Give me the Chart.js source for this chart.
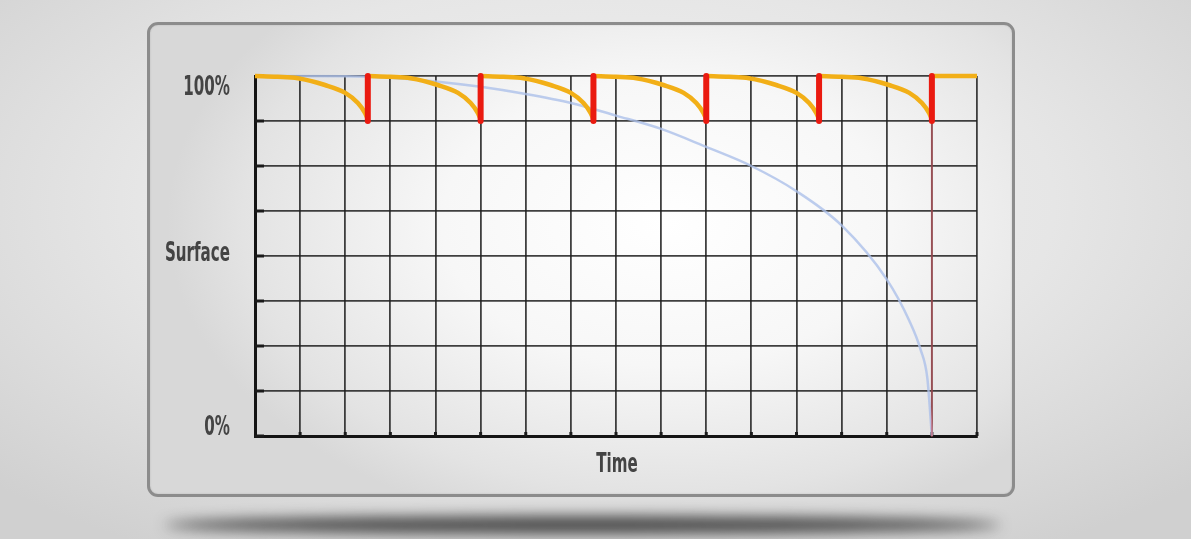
<!DOCTYPE html>
<html>
<head>
<meta charset="utf-8">
<script src="https://cdn.jsdelivr.net/npm/chart.js@4.4.1/dist/chart.umd.min.js"></script>
<style>
  html, body { margin: 0; padding: 0; }
  body {
    width: 1191px; height: 539px; overflow: hidden; position: relative;
    background: radial-gradient(ellipse 70% 75% at 50% 38%, #f3f3f3 0%, #e6e6e6 55%, #d0d0d0 100%);
  }
  #shadow {
    position: absolute; left: 165px; top: 516px; width: 835px; height: 18px;
    border-radius: 50%;
    background: rgba(35,35,35,0.8);
    filter: blur(7px);
  }
  #panel {
    position: absolute; left: 147px; top: 22px; width: 862px; height: 469px;
    border: 3px solid #8c8c8c; border-radius: 11px;
    background: radial-gradient(ellipse 58% 68% at 60% 42%, #ffffff 0%, #f7f7f7 45%, #e3e3e3 85%, #d8d8d8 100%);
    box-shadow: inset 0 0 2px rgba(0,0,0,0.15);
  }
  #chart { position: absolute; left: 0; top: 0; }
</style>
</head>
<body>
<div id="shadow"></div>
<div id="panel"></div>
<canvas id="chart" width="1191" height="539"></canvas>
<script>
// ---- data ----
const xMin = 0, xMax = 16;               // 16 time steps
const yTickValues = [100, 50, 0];
const yTickLabels = ['100%', 'Surface', '0%'];
const xTitle = 'Time';

// surface without maintenance (blue curve)
const decayTime    = [0, 2, 3, 4, 5, 6, 7, 8, 9, 10, 11, 12, 13, 14, 14.5, 14.75, 14.9, 15.0];
const decaySurface = [100, 99.9, 99.5, 98.5, 97, 95, 92.5, 89, 85.3, 80.3, 75, 68, 58.5, 43.5, 32, 24, 16, 0];

// maintained surface (yellow sawtooth): each cycle starts at a refill time
const cycleStarts  = [0, 2.5, 5, 7.5, 10, 12.5];
const cycleOffset  = [0, 0.5, 0.95, 1.55, 2.0, 2.28, 2.44, 2.5];
const cycleSurface = [100, 99.8, 99.4, 97.5, 95.3, 92.5, 89.7, 88.0];
const finalTime    = [15, 16];
const finalSurface = [100, 100];

// refill events (red bars)
const refillTimes  = [2.5, 5, 7.5, 10, 12.5, 15];
const refillTop    = 100;
const refillBottom = 87.5;

// failure line of unmaintained surface
const failTime = 15;
const failTop = 87.5, failBottom = 0;

// ---- build datasets ----
const datasets = [];
datasets.push({
  label: 'decay',
  data: decayTime.map((t, i) => ({ x: t, y: decaySurface[i] })),
  borderColor: 'rgba(172,192,234,0.8)', borderWidth: 2.5,
  cubicInterpolationMode: 'monotone', pointRadius: 0, clip: false, order: 5
});
datasets.push({
  label: 'fail',
  data: [{ x: failTime, y: failTop }, { x: failTime, y: failBottom }],
  borderColor: 'rgba(225,95,105,0.55)', borderWidth: 2,
  pointRadius: 0, clip: false, order: 4
});
cycleStarts.forEach(s => {
  datasets.push({
    label: 'cycle',
    data: cycleOffset.map((u, i) => ({ x: s + u, y: cycleSurface[i] })),
    borderColor: '#f2af17', borderWidth: 4.5,
    cubicInterpolationMode: 'monotone', pointRadius: 0, clip: false, order: 2
  });
});
datasets.push({
  label: 'cycle',
  data: finalTime.map((t, i) => ({ x: t, y: finalSurface[i] })),
  borderColor: '#f2af17', borderWidth: 4.5, pointRadius: 0, clip: false, order: 2
});
refillTimes.forEach(t => {
  datasets.push({
    label: 'refill',
    data: [{ x: t, y: refillTop }, { x: t, y: refillBottom }],
    borderColor: '#ea1a10', borderWidth: 6, borderCapStyle: 'round',
    pointRadius: 0, clip: false, order: 1
  });
});

const FONT = 'bold 27px "DejaVu Sans", sans-serif';
const SQUEEZE = 0.56;
function condensedText(ctx, text, x, y, align) {
  ctx.save();
  ctx.font = FONT;
  ctx.fillStyle = '#444444';
  ctx.textBaseline = 'middle';
  const w = ctx.measureText(text).width * SQUEEZE;
  let left = x;
  if (align === 'right') left = x - w;
  if (align === 'center') left = x - w / 2;
  ctx.translate(left, y);
  ctx.scale(SQUEEZE, 1);
  ctx.textAlign = 'left';
  ctx.fillText(text, 0, 0);
  ctx.restore();
}

const labelShift = { '100%': 12, 'Surface': -2, '0%': -8 };

const decor = {
  id: 'decor',
  beforeDatasetsDraw(chart) {
    const { ctx, chartArea: a, scales: { x, y } } = chart;
    ctx.save();
    ctx.strokeStyle = '#1a1a1a';
    ctx.lineWidth = 3;
    for (let v = 0; v <= 100; v += 12.5) {
      const py = y.getPixelForValue(v);
      ctx.beginPath(); ctx.moveTo(a.left, py); ctx.lineTo(a.left + 9, py); ctx.stroke();
    }
    for (let t = xMin + 1; t <= xMax; t++) {
      const px = x.getPixelForValue(t);
      ctx.beginPath(); ctx.moveTo(px, a.bottom); ctx.lineTo(px, a.bottom - 4); ctx.stroke();
    }
    ctx.restore();
  },
  afterDraw(chart) {
    const { ctx, chartArea: a, scales: { y } } = chart;
    yTickValues.forEach((v, i) => {
      const lbl = yTickLabels[i];
      condensedText(ctx, lbl, a.left - 25, y.getPixelForValue(v) + (labelShift[lbl] || 0), 'right');
    });
    condensedText(ctx, xTitle, (a.left + a.right) / 2 + 1, a.bottom + 29, 'center');
  }
};

new Chart(document.getElementById('chart'), {
  type: 'line',
  data: { datasets },
  options: {
    responsive: false,
    animation: false,
    events: [],
    layout: { padding: { left: 255, right: 214, top: 76, bottom: 103 } },
    plugins: { legend: { display: false }, tooltip: { enabled: false } },
    elements: { line: { borderJoinStyle: 'round' } },
    scales: {
      x: {
        type: 'linear', min: xMin, max: xMax,
        ticks: { display: false, stepSize: 1 },
        grid: { color: 'rgba(30,30,30,0.85)', lineWidth: 1.8, drawTicks: false },
        border: { display: true, color: '#141414', width: 3 },
        afterFit: s => { s.height = 0; }
      },
      y: {
        min: 0, max: 100,
        ticks: { display: false, stepSize: 12.5 },
        grid: { color: 'rgba(30,30,30,0.85)', lineWidth: 1.8, drawTicks: false },
        border: { display: true, color: '#141414', width: 3 },
        afterFit: s => { s.width = 0; }
      }
    }
  },
  plugins: [decor]
});
</script>
</body>
</html>
